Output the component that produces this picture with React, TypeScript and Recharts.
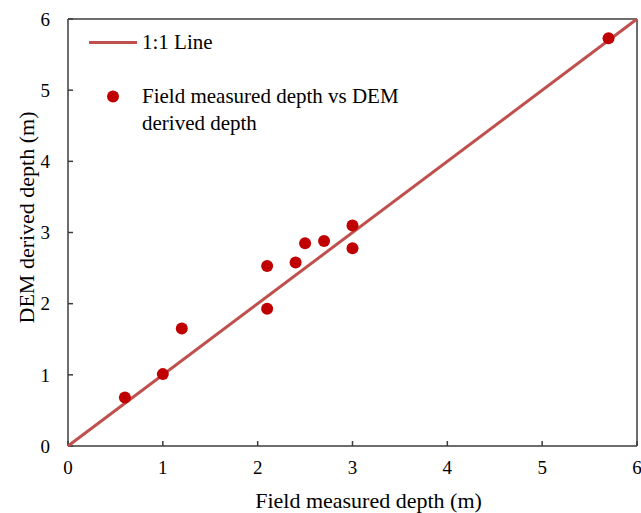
import React from "react";
import {
  ScatterChart,
  Scatter,
  XAxis,
  YAxis,
  ReferenceLine,
  Legend,
} from "recharts";

// field measured depth (m) vs DEM derived depth (m)
const fieldDepth = [0.6, 1.0, 1.2, 2.1, 2.1, 2.4, 2.5, 2.7, 3.0, 3.0, 5.7];
const demDepth = [0.68, 1.01, 1.65, 2.53, 1.93, 2.58, 2.85, 2.88, 3.1, 2.78, 5.73];
const oneToOne = [0, 6];
const axisTicks = [0, 1, 2, 3, 4, 5, 6];

const points = fieldDepth.map((x, i) => ({ x, y: demDepth[i] }));
const lineData = oneToOne.map((v) => ({ x: v, y: v }));

const font = "'Liberation Serif', 'Times New Roman', serif";
const ink = "#000";
const frame = "#3c3c3c";
const lineRed = "#c0504d";
const dotRed = "#c00000";

const tickStyle = { fontFamily: font, fontSize: 19, fill: ink };

function LegendBox() {
  return (
    <div style={{ fontFamily: font, fontSize: 21, color: ink, lineHeight: "27px" }}>
      <div style={{ display: "flex", alignItems: "center" }}>
        <svg width={48} height={27}>
          <line x1={0} y1={13.5} x2={48} y2={13.5} stroke={lineRed} strokeWidth={3} />
        </svg>
        <span style={{ marginLeft: 5, whiteSpace: "nowrap" }}>1:1 Line</span>
      </div>
      <div style={{ display: "flex", alignItems: "flex-start", marginTop: 27 }}>
        <svg width={48} height={27}>
          <circle cx={24} cy={13.5} r={6} fill={dotRed} />
        </svg>
        <span style={{ marginLeft: 5, whiteSpace: "nowrap" }}>
          Field measured depth vs DEM
          <br />
          derived depth
        </span>
      </div>
    </div>
  );
}

// axis titles, placed from the axis viewBox
const XTitle = ({ viewBox }: any) => (
  <text
    x={viewBox.x + viewBox.width / 2 + 16}
    y={viewBox.y + 62}
    textAnchor="middle"
    fontFamily={font}
    fontSize={22}
    fill={ink}
  >
    Field measured depth (m)
  </text>
);

const YTitle = ({ viewBox }: any) => {
  const cx = viewBox.x + 18;
  const cy = viewBox.y + viewBox.height / 2 - 15;
  return (
    <text
      x={cx}
      y={cy}
      transform={`rotate(-90, ${cx}, ${cy})`}
      textAnchor="middle"
      dominantBaseline="central"
      fontFamily={font}
      fontSize={22}
      fill={ink}
    >
      DEM derived depth (m)
    </text>
  );
};

export default function App() {
  return (
    <div style={{ position: "absolute", left: 0, top: 0 }}>
      <ScatterChart width={641} height={513} margin={{ top: 19, right: 4, bottom: 7, left: 8 }}>
        <XAxis
          type="number"
          dataKey="x"
          domain={[0, 6]}
          ticks={axisTicks}
          interval={0}
          height={60}
          tick={tickStyle}
          tickSize={-5}
          tickMargin={20}
          axisLine={{ stroke: frame, strokeWidth: 1.5 }}
          tickLine={{ stroke: frame, strokeWidth: 1.5 }}
          label={<XTitle />}
        />
        <YAxis
          type="number"
          dataKey="y"
          domain={[0, 6]}
          ticks={axisTicks}
          interval={0}
          width={60}
          tick={tickStyle}
          tickSize={-5}
          tickMargin={23}
          axisLine={{ stroke: frame, strokeWidth: 1.5 }}
          tickLine={{ stroke: frame, strokeWidth: 1.5 }}
          label={<YTitle />}
        />
        <ReferenceLine y={6} stroke={frame} strokeWidth={1.5} ifOverflow="visible" />
        <ReferenceLine x={6} stroke={frame} strokeWidth={1.5} ifOverflow="visible" />
        <Legend
          layout="horizontal"
          verticalAlign="middle"
          align="center"
          content={() => <LegendBox />}
          wrapperStyle={{ top: 29, left: 89, width: 340 }}
        />
        <Scatter
          data={lineData}
          line={{ stroke: lineRed, strokeWidth: 3 }}
          shape={() => <g />}
          legendType="none"
          isAnimationActive={false}
        />
        <Scatter
          data={points}
          fill={dotRed}
          shape={(p: any) => <circle cx={p.cx} cy={p.cy} r={6} fill={dotRed} />}
          isAnimationActive={false}
        />
      </ScatterChart>
    </div>
  );
}
